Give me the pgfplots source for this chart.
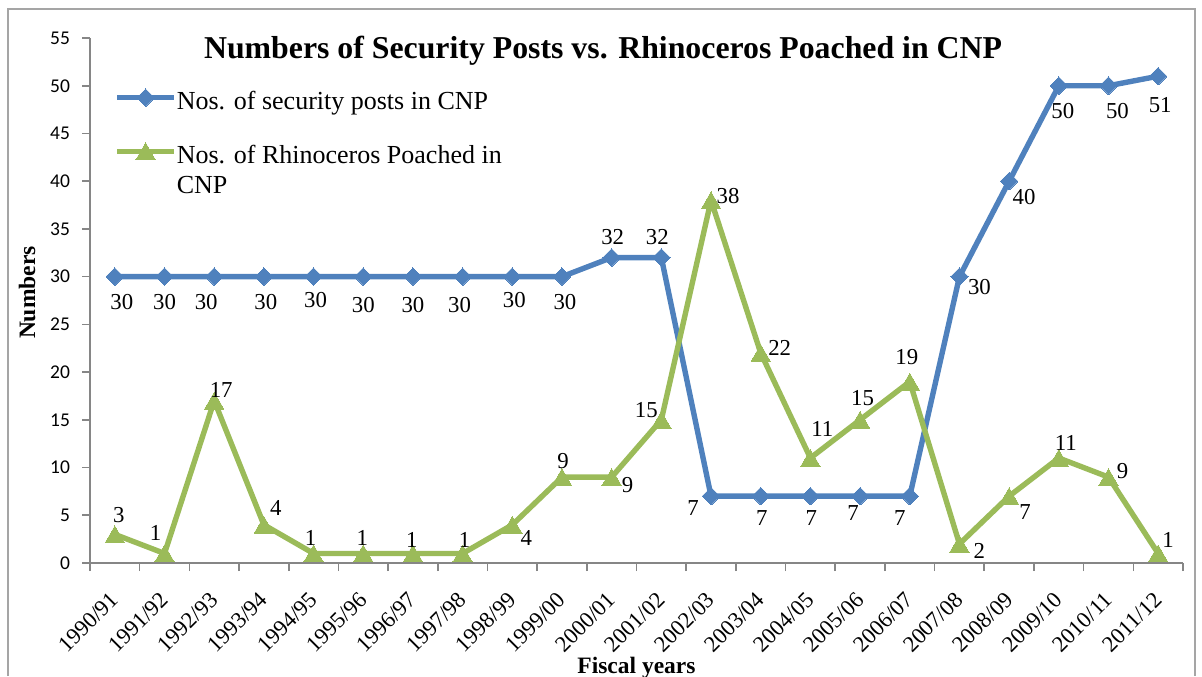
\documentclass[border=0pt]{standalone}
\usepackage{fontspec}
\setmainfont{Liberation Serif}
\newfontfamily\calibri{Carlito}
\usepackage{pgfplots}
\usepackage{pgfplotstable}
\pgfplotsset{compat=1.18}

\definecolor{postblue}{RGB}{79,129,189}
\definecolor{rhinogreen}{RGB}{155,187,89}
\definecolor{axisgray}{RGB}{134,134,134}
\definecolor{framegray}{RGB}{165,165,165}

% fiscal-year index, value, label offset (dx, dy in pt)
\pgfplotstableread{
x y dx dy
0 30 3.5 -12.5
1 30 0 -12.5
2 30 -4 -12.5
3 30 1 -12.5
4 30 1 -11.5
5 30 0 -14
6 30 0 -14
7 30 -1.5 -14
8 30 1 -11.5
9 30 1.5 -12.5
10 32 0.5 10
11 32 -2 10
12 7 -9 -6
13 7 0.5 -11
14 7 0.5 -11
15 7 -3.5 -8.5
16 7 -5 -11
17 30 10 -5
18 40 7.5 -8
19 50 2 -12.5
20 50 4.5 -12.5
21 51 1 -14.5
}\posts

\pgfplotstableread{
x y dx dy
0 3 2 11
1 1 -4.5 11.5
2 17 3.5 7
3 4 6 10
4 1 -1.5 9.25
5 1 -0.5 9.25
6 1 -0.5 8
7 1 1 8
8 4 7 -5
9 9 0.5 9.5
10 9 8 -2.5
11 15 -7.5 6.5
12 38 8.5 3.5
13 22 9.5 4
14 11 6 16
15 15 1.25 12.5
16 19 -1.5 13.5
17 2 10 -2
18 7 8 -6.5
19 11 3.5 9
20 9 7 4.5
21 1 5 8
}\poached

\pgfplotsset{
  value labels/.style={
    nodes near coords,
    visualization depends on={\thisrow{dx}\as\labdx},
    visualization depends on={\thisrow{dy}\as\labdy},
    every node near coord/.append style={anchor=center, inner sep=0pt,
      xshift=\labdx pt, yshift=\labdy pt,
      font=\fontsize{11.4}{13}\selectfont, text=black},
  },
}

\begin{document}
\begin{tikzpicture}
\path[use as bounding box] (0pt,0pt) rectangle (601pt,-338pt);
\draw[framegray, line width=0.8pt] (4pt,-338pt) -- (4pt,-4.5pt) -- (597.5pt,-4.5pt) -- (597.5pt,-338pt);
\begin{axis}[
  at={(45pt,-281.5pt)}, anchor=south west,
  scale only axis, width=546.5pt, height=262.5pt,
  xmin=-0.5, xmax=21.5, ymin=0, ymax=55,
  clip=false,
  axis x line*=bottom, axis y line*=left,
  axis line style={axisgray, line width=0.8pt, -},
  tick align=outside, major tick length=4pt,
  tick style={axisgray, line width=0.8pt},
  /pgf/number format/assume math mode=true,
  ytick={0,5,...,55},
  yticklabel style={font=\calibri\fontsize{9.75}{11}\selectfont, text=black, xshift=-2.5pt},
  xtick={-0.5,0.5,1.5,2.5,3.5,4.5,5.5,6.5,7.5,8.5,9.5,10.5,11.5,12.5,13.5,14.5,15.5,16.5,17.5,18.5,19.5,20.5,21.5},
  x tick label as interval,
  xticklabels={1990/91,1991/92,1992/93,1993/94,1994/95,1995/96,1996/97,1997/98,1998/99,1999/00,2000/01,2001/02,2002/03,2003/04,2004/05,2005/06,2006/07,2007/08,2008/09,2009/10,2010/11,2011/12},
  xticklabel shift=12.5pt,
  xticklabel style={font=\fontsize{11.3}{13}\selectfont, text=black, rotate=45, anchor=east, inner sep=0pt},
  title={Numbers of Security Posts vs. Rhinoceros Poached in CNP},
  title style={at={(axis description cs:0.4694,0.9619)}, anchor=base, yshift=-6pt, inner sep=0pt,
    font=\bfseries\fontsize{15.9}{18}\selectfont},
  xlabel={Fiscal years},
  xlabel style={at={(axis description cs:0.5,-0.2095)}, anchor=base, inner sep=0pt,
    font=\bfseries\fontsize{11.75}{14}\selectfont},
  ylabel={Numbers},
  ylabel style={at={(axis description cs:-0.0503,0.515)}, anchor=base, rotate=0, inner sep=0pt,
    font=\bfseries\fontsize{11.75}{14}\selectfont},
  legend style={draw=none, fill=none, at={(axis description cs:0.022,0.9038)}, anchor=north west,
    font=\fontsize{13}{15}\selectfont, inner sep=0pt, row sep=15pt,
    nodes={inner sep=0pt}, column sep=0pt},
  legend cell align=left,
  legend image code/.code={
    \draw[mark repeat=2, mark phase=2, #1] plot coordinates {(0pt,2.25pt) (14.25pt,2.25pt) (28.5pt,2.25pt)};
  },
]
\addplot[postblue, line width=2.7pt, line join=round,
  mark=square*, mark size=3.1pt, mark options={rotate=45, fill=postblue, draw=postblue, line width=0pt},
  value labels]
  table[x=x, y=y] {\posts};
\addlegendentry{Nos. of security posts in CNP}
\addplot[rhinogreen, line width=2.7pt, line join=round,
  mark=triangle*, mark size=5.6pt, mark options={yshift=-1.4pt, fill=rhinogreen, draw=rhinogreen, line width=0pt},
  value labels]
  table[x=x, y=y] {\poached};
\addlegendentry{\vtop{\hbox{Nos. of Rhinoceros Poached in}\hbox{CNP}}}
\end{axis}
\end{tikzpicture}
\end{document}
